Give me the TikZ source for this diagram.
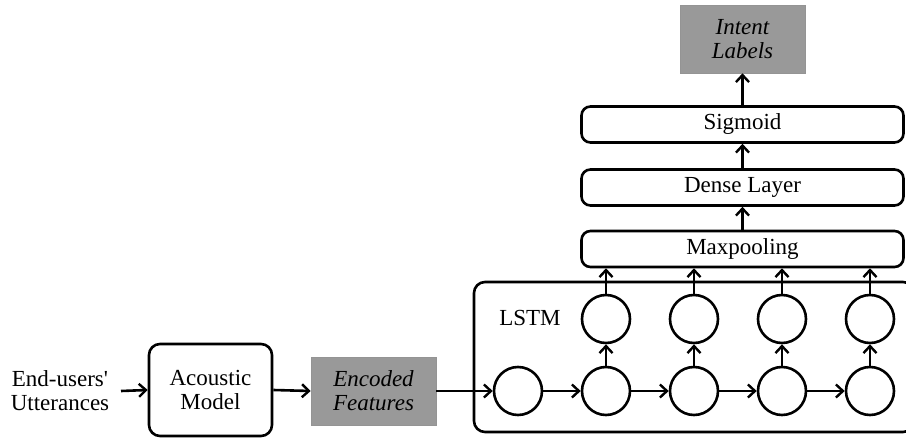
\documentclass[tikz,border=0pt]{standalone}
\usepackage{fontspec}
\setmainfont{Liberation Serif}
\usetikzlibrary{arrows.meta}
\begin{document}
\begin{tikzpicture}[x=1pt,y=-1pt,
  line width=2.6pt,
  every node/.style={font=\fontsize{23}{24}\selectfont},
  arr/.style={line width=2.6pt,-{Straight Barb[length=7pt,width=13pt,line width=2.4pt]}},
  rbox/.style={draw,line width=2.6pt,rounded corners=11pt,align=center,inner sep=0pt},
  gbox/.style={fill=black!40,draw=black!42,line width=0.6pt,align=center,inner sep=0pt,font=\fontsize{23}{24}\selectfont\itshape},
  cell/.style={draw,line width=2.6pt,circle,minimum size=48pt,inner sep=0pt},
  layer/.style={draw,line width=2.6pt,rounded corners=9pt,minimum width=322pt,minimum height=36pt,inner sep=0pt}]
\useasboundingbox (0,0) rectangle (906,438);
% LSTM container
\draw[line width=2.6pt,rounded corners=11pt] (474,282) rectangle (914,432);
\node (lstmlbl) at (530,318) {LSTM};
\node[align=center] (users) at (60,391) {End-users\textquotesingle\\Utterances};
\coordinate (ustart) at (121,391);
\node[rbox,minimum width=123pt,minimum height=92pt] (acoustic) at (210.5,390) {Acoustic\\Model};
\node[gbox,minimum width=125pt,minimum height=68pt] (encoded) at (373.5,391) {Encoded\\Features};
\node[cell] (c0) at (518,391) {};
\node[cell] (c1) at (606,391) {};
\node[cell] (c2) at (694,391) {};
\node[cell] (c3) at (782,391) {};
\node[cell] (c4) at (870,391) {};
\node[cell] (t1) at (606,319) {};
\node[cell] (t2) at (694,319) {};
\node[cell] (t3) at (782,319) {};
\node[cell] (t4) at (870,319) {};
\node[layer] (maxp) at (742.5,249) {Maxpooling};
\node[layer] (dense) at (742.5,187.5) {Dense Layer};
\node[layer] (sigm) at (742.5,124.5) {Sigmoid};
\node[gbox,minimum width=125pt,minimum height=68pt] (intent) at (742.5,39) {Intent\\Labels};
% connectors
\draw[arr] (ustart) -- (acoustic.west);
\draw[arr] (acoustic.east) -- (encoded.west);
\draw[arr] (encoded.east) -- (c0.west);
\draw[arr] (c0) -- (c1);
\draw[arr] (c1) -- (c2);
\draw[arr] (c2) -- (c3);
\draw[arr] (c3) -- (c4);
\draw[arr] (c1) -- (t1);
\draw[arr] (c2) -- (t2);
\draw[arr] (c3) -- (t3);
\draw[arr] (c4) -- (t4);
\draw[arr] (t1) -- (t1 |- maxp.south);
\draw[arr] (t2) -- (t2 |- maxp.south);
\draw[arr] (t3) -- (t3 |- maxp.south);
\draw[arr] (t4) -- (t4 |- maxp.south);
\draw[arr] (maxp) -- (dense);
\draw[arr] (dense) -- (sigm);
\draw[arr] (sigm) -- (intent);
\end{tikzpicture}
\end{document}
